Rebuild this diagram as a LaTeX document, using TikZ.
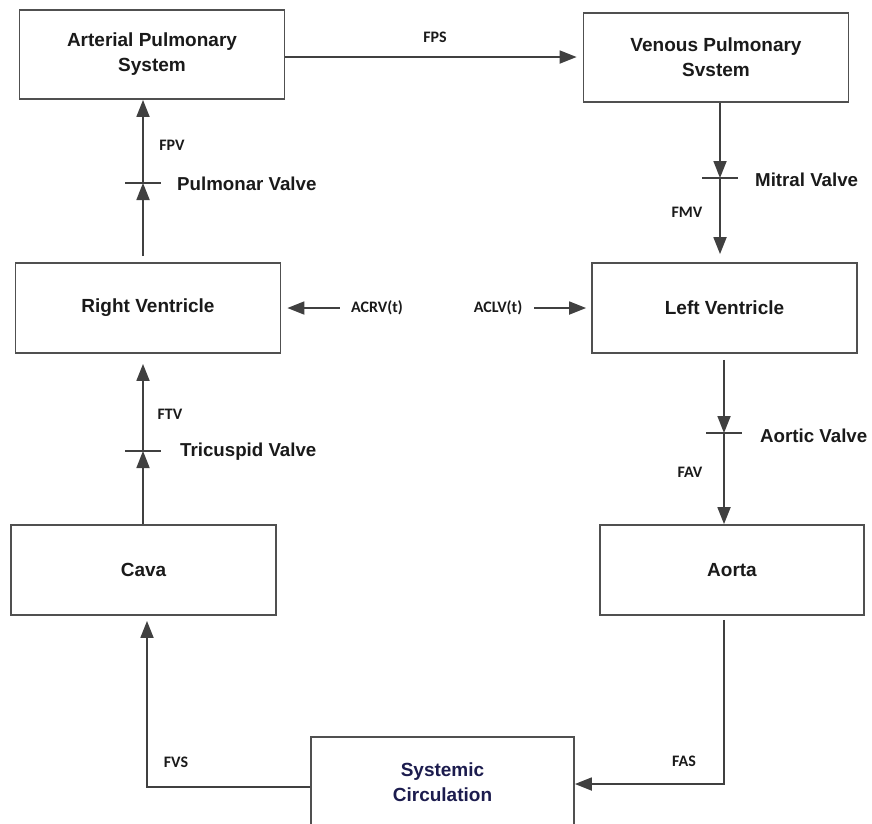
\documentclass[tikz,border=0pt]{standalone}
\usepackage{fontspec}
\setmainfont{Liberation Sans}
\newfontfamily\labfont{Carlito}
\usetikzlibrary{arrows.meta,calc}
\definecolor{boxgray}{HTML}{505050}
\definecolor{linegray}{HTML}{404040}
\definecolor{inkblack}{HTML}{1A1A1A}
\definecolor{inknavy}{HTML}{1C1C4E}
\begin{document}
\begin{tikzpicture}[x=1pt,y=-1pt,
  block/.style={draw=boxgray, line width=1.8pt, fill=white, minimum width=265pt,
    minimum height=89pt, align=center, text=inkblack,
    font=\fontsize{19}{25}\selectfont\bfseries},
  conn/.style={draw=linegray, line width=1.8pt},
  flow/.style={conn, -{Triangle[length=17pt,width=13pt]}},
  flowlabel/.style={font=\labfont\fontsize{16}{18}\selectfont\bfseries, text=inkblack, inner sep=3pt},
  valvelabel/.style={font=\fontsize{18.7}{22}\selectfont\bfseries, text=inkblack, anchor=west, inner sep=0pt},
  tick/.style={draw=linegray, line width=1.8pt}
]
\useasboundingbox[fill=white] (0,0) rectangle (872,823);

% compartments
\node[block] (aps) at (152,54.5) {Arterial Pulmonary\\System};
\node[block] (vps) at (716,57.5) {Venous Pulmonary\\Svstem};
\node[block, minimum height=90pt] (rv) at (148,308) {Right Ventricle};
\node[block, minimum height=90pt] (lv) at (724.5,308) {Left Ventricle};
\node[block, minimum height=90pt] (cava) at (143.5,570) {Cava};
\node[block, minimum width=264pt, minimum height=90pt] (aorta) at (732,570) {Aorta};
\node[block, minimum width=263pt, minimum height=90pt, text=inknavy] (sc) at (442.5,782) {Systemic\\Circulation};

% valve positions
\coordinate (pv) at (143,183);
\coordinate (tv) at (143,451);
\coordinate (mv) at (720,178);
\coordinate (av) at (724,433);
\coordinate (fasc) at (724,784);
\coordinate (fvsc) at (147,787);

% pulmonary circuit
\draw[flow, shorten >=6pt] (aps.east |- 0,57) -- (vps.west |- 0,57);
\node[flowlabel] (fps) at (435,37) {FPS};

\draw[flow, shorten <=6pt] (pv |- rv.north) -- (pv);
\draw[flow] (pv) -- (pv |- aps.south);
\draw[tick] ($(pv)+(-18,0)$) -- ($(pv)+(18,0)$);
\node[flowlabel] (fpv) at (172,145) {FPV};
\node[valvelabel] (pvl) at (177,184) {Pulmonar Valve};

\draw[flow] (mv |- vps.south) -- (mv);
\draw[flow, shorten >=8pt] (mv) -- (mv |- lv.north);
\draw[tick] ($(mv)+(-18,0)$) -- ($(mv)+(18,0)$);
\node[flowlabel] (fmv) at (687,212) {FMV};
\node[valvelabel] (mvl) at (755,180) {Mitral Valve};

% ventricular activation
\node[flowlabel] (acrv) at (377,308) {ACRV(t)};
\draw[flow, shorten <=8pt, shorten >=6pt] (acrv.west) -- (rv.east |- acrv.west);
\node[flowlabel] (aclv) at (498,308) {ACLV(t)};
\draw[flow, shorten <=9pt, shorten >=5pt] (aclv.east) -- (lv.west |- aclv.east);

% systemic circuit
\draw[flow, shorten <=6pt] (av |- lv.south) -- (av);
\draw[flow] (av) -- (av |- aorta.north);
\draw[tick] ($(av)+(-18,0)$) -- ($(av)+(18,0)$);
\node[flowlabel] (fav) at (690,472) {FAV};
\node[valvelabel] (avl) at (760,436) {Aortic Valve};

\draw[flow, shorten <=4pt] (fasc |- aorta.south) -- (fasc) -- (sc.east |- fasc);
\node[flowlabel] (fas) at (684,761) {FAS};

\draw[flow, shorten >=5pt] (sc.west |- fvsc) -- (fvsc) -- (fvsc |- cava.south);
\node[flowlabel] (fvs) at (176,762) {FVS};

\draw[flow] (tv |- cava.north) -- (tv);
\draw[flow, shorten >=10pt] (tv) -- (tv |- rv.south);
\draw[tick] ($(tv)+(-18,0)$) -- ($(tv)+(18,0)$);
\node[flowlabel] (ftv) at (170,414) {FTV};
\node[valvelabel] (tvl) at (180,452) {Tricuspid Valve};
\end{tikzpicture}
\end{document}
